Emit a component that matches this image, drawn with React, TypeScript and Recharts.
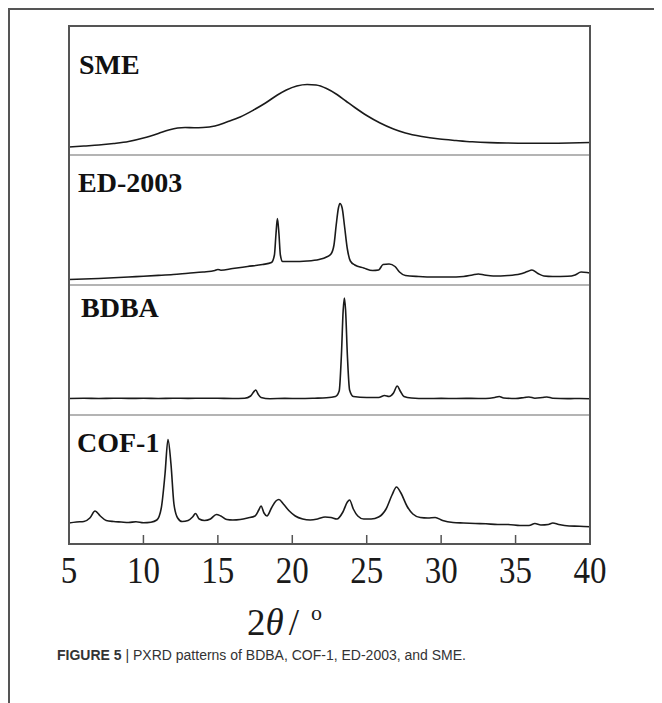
import { LineChart, Line, XAxis, YAxis } from "recharts";

// 2θ tick labels on the bottom axis
const thetaTicks = [5, 10, 15, 20, 25, 30, 35, 40];

// SME – broad amorphous hump
const smeAngles = [5, 6, 7, 8, 9, 10, 11, 11.7, 12.3, 12.8, 13.4, 14, 14.8, 15.6, 16.5, 17.4, 18.2, 19, 19.6, 20.3, 21, 21.6, 22.3, 23, 23.6, 24.2, 25, 25.9, 26.8, 27.6, 28.7, 29.9, 31, 32.1, 33.3, 34.4, 35.8, 37.2, 38.6, 40];
const smeCounts = [8, 9, 10, 11.5, 13.5, 17, 21.5, 25, 27, 27.5, 27.3, 27.5, 29, 33, 38, 45, 52, 60, 65, 69, 70.5, 70, 66.5, 60.5, 54, 47.5, 39.5, 32, 26, 22, 18.5, 16, 14.5, 13.2, 12.4, 12, 11.8, 11.8, 12, 12.5];

// ED-2003
const edAngles = [5, 6, 7, 8, 9, 10, 11, 12, 13, 14, 14.8, 15, 15.2, 16, 17, 18, 18.6, 18.8, 18.9, 19, 19.1, 19.2, 19.35, 20, 21, 21.8, 22.3, 22.6, 22.8, 22.95, 23.1, 23.2, 23.35, 23.5, 23.7, 23.9, 24.2, 24.8, 25.4, 25.8, 26.1, 26.5, 26.9, 27.2, 27.6, 28.5, 29.5, 30.5, 31.5, 32.1, 32.5, 32.9, 33.5, 34.5, 35.3, 35.8, 36.1, 36.5, 36.9, 37.5, 38.5, 39, 39.4, 39.8, 40];
const edCounts = [5.5, 6, 6.5, 7.2, 8, 8.8, 9.6, 10.5, 11.8, 13, 14.5, 15.5, 14.8, 16.5, 18.5, 20.5, 22.5, 30, 50, 66.5, 52, 30, 23.5, 23.5, 24, 25.5, 28, 31, 40, 60, 77, 81.5, 77, 60, 36, 24, 20, 17, 14.5, 15, 20.5, 21, 18.5, 13, 9.5, 8.5, 8, 8, 8.5, 10, 11, 10, 9, 9.5, 11, 13.5, 15, 11.5, 9, 8.5, 8.7, 10, 13, 12.5, 12];

// BDBA
const bdbaAngles = [5, 6, 7, 8, 9, 10, 11, 12, 13, 14, 15, 16, 16.8, 17.2, 17.4, 17.55, 17.7, 17.9, 18.5, 19.5, 20.5, 21.5, 22.3, 22.9, 23.15, 23.3, 23.42, 23.5, 23.58, 23.7, 23.85, 24.1, 25, 25.8, 26.2, 26.5, 26.8, 27.05, 27.25, 27.5, 28, 29, 30, 31, 32, 33, 33.6, 33.9, 34.2, 35, 35.6, 35.9, 36.3, 36.8, 37.1, 37.5, 38.5, 39.3, 40];
const bdbaCounts = [16.5, 16.7, 16.5, 16.8, 16.6, 16.7, 16.5, 16.8, 16.6, 16.8, 16.7, 16.5, 16.8, 19, 23, 25, 21, 17.5, 16.3, 16.6, 16.5, 16.8, 17.2, 18.5, 24, 60, 105, 117, 105, 60, 25, 18.5, 17.5, 17.5, 19.5, 18.5, 22, 29, 24, 18.5, 17, 16.5, 16.6, 16.5, 16.6, 16.5, 17.5, 18.5, 17, 16.5, 17.5, 18, 16.8, 17.5, 18, 16.8, 16.4, 16.5, 16.3];

// COF-1
const cofAngles = [5, 5.5, 6, 6.4, 6.75, 7.1, 7.5, 8, 8.5, 9, 9.5, 10, 10.5, 10.9, 11.2, 11.45, 11.65, 11.85, 12.05, 12.3, 12.6, 13, 13.3, 13.5, 13.75, 14.1, 14.5, 14.9, 15.2, 15.6, 16, 16.5, 17, 17.5, 17.75, 17.9, 18.1, 18.3, 18.6, 18.9, 19.1, 19.4, 19.8, 20.2, 20.7, 21.2, 21.7, 22.2, 22.6, 23, 23.4, 23.7, 23.85, 24.1, 24.4, 24.8, 25.3, 25.8, 26.3, 26.7, 27, 27.3, 27.7, 28.1, 28.6, 29.1, 29.6, 30.1, 30.8, 31.5, 32.3, 33, 33.8, 34.5, 35.3, 35.9, 36.3, 36.7, 37.2, 37.5, 37.9, 38.6, 39.3, 40];
const cofCounts = [21, 22, 22.5, 26, 33, 28, 23.5, 22.5, 22, 21.5, 22.3, 21.3, 21.8, 24, 36, 70, 104.5, 80, 40, 26, 22.5, 23.5, 27, 30.5, 25, 23.5, 25, 29.5, 28, 24.5, 24, 24.5, 26, 28, 34, 38, 31, 28, 36, 43, 44.5, 40, 33, 28, 25, 24, 25, 27, 26.5, 25, 32, 42, 44, 35, 28, 25, 25, 27, 35, 49, 57, 51, 38, 30, 26.5, 26, 26.5, 23.5, 21.5, 21, 20.5, 20.2, 19.5, 19.5, 18.5, 18.5, 20.5, 19, 19.5, 21, 19.5, 18, 17.8, 17.3];

const zip = (angles: number[], counts: number[]) =>
  angles.map((theta, i) => ({ theta, counts: counts[i] }));

const serif = '"Liberation Serif", "Times New Roman", serif';
const sans = '"Liberation Sans", Arial, sans-serif';
const frameColor = "#555";
const lineColor = "#1a1a1a";

const BOX_LEFT = 61;
const BOX_WIDTH = 521;
const PAD = 30; // room for the end tick labels
const AXIS_HEIGHT = 55;

const panels = [
  { name: "SME", data: zip(smeAngles, smeCounts), top: 18, height: 129, labelTop: 43, labelLeft: 71 },
  { name: "ED-2003", data: zip(edAngles, edCounts), top: 147, height: 130, labelTop: 161, labelLeft: 70 },
  { name: "BDBA", data: zip(bdbaAngles, bdbaCounts), top: 277, height: 130, labelTop: 286, labelLeft: 73 },
  { name: "COF-1", data: zip(cofAngles, cofCounts), top: 407, height: 129, labelTop: 421, labelLeft: 69 },
];

// the original tick digits are a little taller than plain Times
const ThetaTick = (props: any) => {
  const { x, y, payload } = props;
  return (
    <text
      x={x}
      y={y}
      dy="0.71em"
      textAnchor="middle"
      fontFamily={serif}
      fontSize={33}
      fill={lineColor}
      transform={`translate(${x} ${y}) scale(1 1.15) translate(${-x} ${-y})`}
    >
      {payload.value}
    </text>
  );
};

export default function App() {
  return (
    <div style={{ position: "relative", width: 654, height: 695, background: "#fff" }}>
      {/* outer figure frame (top and left only) */}
      <div style={{ position: "absolute", left: 0, top: 0, width: 654, height: 1.5, background: frameColor }} />
      <div style={{ position: "absolute", left: 0, top: 0, width: 1.5, height: 695, background: frameColor }} />

      {panels.map((p, idx) => {
        const last = idx === panels.length - 1;
        return (
          <div key={p.name} style={{ position: "absolute", left: BOX_LEFT - PAD, top: p.top }}>
            <LineChart
              width={BOX_WIDTH + 2 * PAD}
              height={p.height + (last ? AXIS_HEIGHT : 0)}
              data={p.data}
              margin={{ top: 0, right: PAD, bottom: 0, left: PAD }}
            >
              <XAxis
                dataKey="theta"
                type="number"
                domain={[5, 40]}
                ticks={thetaTicks}
                hide={!last}
                height={AXIS_HEIGHT}
                axisLine={false}
                tickLine={{ stroke: frameColor, strokeWidth: 1.5 }}
                tickSize={-9}
                tickMargin={21}
                interval={0}
                tick={<ThetaTick />}
              />
              <YAxis hide domain={[0, p.height]} type="number" />
              <Line
                type="monotone"
                dataKey="counts"
                stroke={lineColor}
                strokeWidth={1.6}
                dot={false}
                isAnimationActive={false}
              />
            </LineChart>
          </div>
        );
      })}

      {/* panel names */}
      {panels.map((p) => (
        <div
          key={p.name + "-label"}
          style={{
            position: "absolute",
            left: p.labelLeft,
            top: p.labelTop,
            fontFamily: serif,
            fontWeight: "bold",
            fontSize: 28,
            lineHeight: "28px",
            color: "#111",
          }}
        >
          {p.name}
        </div>
      ))}

      {/* separators between panels */}
      {panels.slice(1).map((p) => (
        <div
          key={p.name + "-sep"}
          style={{ position: "absolute", left: BOX_LEFT + 1, top: p.top - 1, width: BOX_WIDTH - 2, height: 2, background: "#b4b4b4" }}
        />
      ))}

      {/* plot box */}
      <div
        style={{
          position: "absolute",
          left: BOX_LEFT - 1,
          top: 17,
          width: BOX_WIDTH + 2,
          height: 520,
          border: `2px solid ${frameColor}`,
          boxSizing: "border-box",
          pointerEvents: "none",
        }}
      />

      {/* x axis title */}
      <div
        style={{
          position: "absolute",
          left: 239,
          top: 586,
          fontFamily: serif,
          fontSize: 37,
          lineHeight: "37px",
          color: "#1a1a1a",
          whiteSpace: "nowrap",
        }}
      >
        2<i>θ</i>
        <span style={{ marginLeft: 5 }}>/</span>
        <sup style={{ fontSize: 22, marginLeft: 12, verticalAlign: 15 }}>o</sup>
      </div>

      {/* caption */}
      <div
        style={{
          position: "absolute",
          left: 49,
          top: 640,
          fontFamily: sans,
          fontSize: 14,
          lineHeight: "14px",
          color: "#333",
          whiteSpace: "nowrap",
        }}
      >
        <b>FIGURE 5</b> | PXRD patterns of BDBA, COF-1, ED-2003, and SME.
      </div>
    </div>
  );
}
